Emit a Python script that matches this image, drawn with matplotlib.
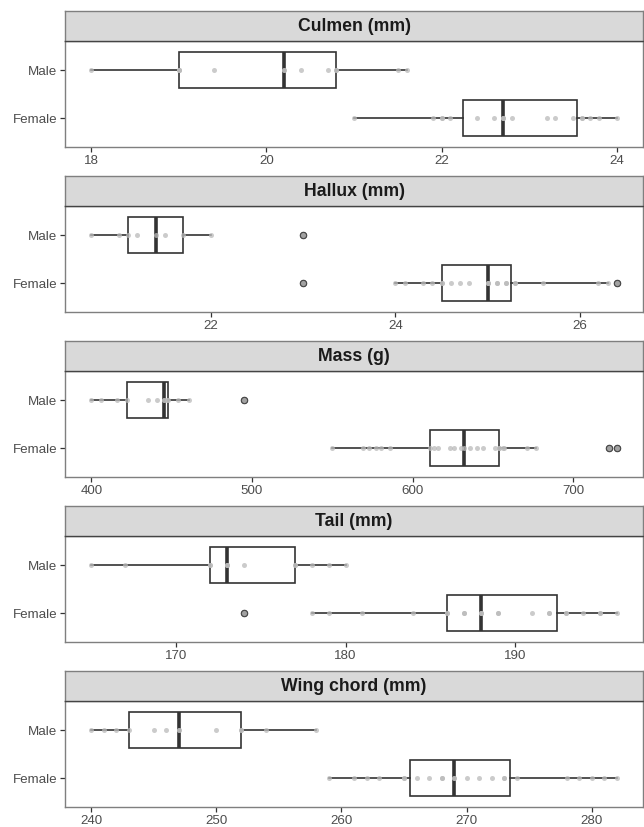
import matplotlib
matplotlib.use("Agg")
import matplotlib.pyplot as plt
import numpy as np
from matplotlib.ticker import MultipleLocator

plt.rcParams['font.family'] = ['Liberation Sans', 'DejaVu Sans']

titles = ["Culmen (mm)", "Hallux (mm)", "Mass (g)", "Tail (mm)", "Wing chord (mm)"]
sexes = ["Female", "Male"]

culmen_male = [18.0, 19.0, 19.0, 19.0, 19.4, 20.2, 20.2, 20.4, 20.7, 20.8, 20.8, 21.5, 21.6]
culmen_female = [21.0, 21.9, 22.0, 22.0, 22.1, 22.4, 22.6, 22.7, 22.7, 22.7, 22.8, 23.2, 23.3,
                 23.5, 23.6, 23.6, 23.7, 23.8, 24.0]

hallux_male = [20.7, 21.0, 21.1, 21.2, 21.4, 21.5, 21.7, 22.0, 23.0]
hallux_female = [23.0, 24.0, 24.1, 24.3, 24.4, 24.5, 24.5, 24.6, 24.7, 24.8, 25.0, 25.0, 25.0,
                 25.1, 25.1, 25.2, 25.2, 25.3, 25.3, 25.6, 26.2, 26.3, 26.4]

mass_male = [400, 406, 416, 422, 435, 441, 445, 445, 447, 448, 454, 461, 495]
mass_female = [550, 569, 573, 577, 580, 586, 611, 613, 616, 623, 626, 630, 632, 636, 640, 644,
               651, 654, 654, 656, 657, 671, 677, 722, 727]

tail_male = [165, 167, 172, 172, 173, 173, 173, 174, 177, 177, 178, 179, 180]
tail_female = [174, 178, 179, 181, 184, 186, 186, 187, 187, 188, 188, 188, 189, 189, 191, 192,
               192, 193, 193, 194, 195, 195, 196]

wing_male = [240, 241, 242, 243, 245, 246, 247, 247, 250, 252, 252, 254, 258]
wing_female = [259, 261, 262, 263, 265, 265, 266, 267, 268, 268, 269, 269, 270, 271, 272, 273,
               273, 274, 278, 279, 280, 281, 282]

tick_steps = [2, 2, 100, 10, 10]

data = [
    (culmen_female, culmen_male),
    (hallux_female, hallux_male),
    (mass_female, mass_male),
    (tail_female, tail_male),
    (wing_female, wing_male),
]

W, H = 644, 828
fig = plt.figure(figsize=(W / 100, H / 100), dpi=100)

left_px, right_px = 65, 643
strip_top0, panel_top0, panel_bot0 = 12, 41.7, 147.7
step = 165

border_col = '#7f7f7f'
line_col = '#333333'

for i, (title, (fem, mal)) in enumerate(zip(titles, data)):
    st = strip_top0 + i * step
    pt = panel_top0 + i * step
    pb = panel_bot0 + i * step
    ax = fig.add_axes([left_px / W, 1 - pb / H, (right_px - left_px) / W, (pb - pt) / H])
    sax = fig.add_axes([left_px / W, 1 - pt / H, (right_px - left_px) / W, (pt - st) / H])

    groups = [fem, mal]
    ax.boxplot(groups, positions=[1, 2], widths=0.75, orientation='horizontal', whis=1.5,
               patch_artist=True, showcaps=False,
               boxprops=dict(facecolor='white', edgecolor=line_col, linewidth=1.2),
               whiskerprops=dict(color=line_col, linewidth=1.2),
               medianprops=dict(color=line_col, linewidth=2.6),
               flierprops=dict(marker='o', markerfacecolor='#5e5e5e', markeredgecolor='#333333',
                               markersize=4.8, markeredgewidth=0.6))
    for pos, g in zip([1, 2], groups):
        ax.scatter(g, [pos] * len(g), s=13, color='#bababa', alpha=0.75, linewidths=0, zorder=4)

    allv = np.array(fem + mal, dtype=float)
    lo, hi = allv.min(), allv.max()
    pad = 0.05 * (hi - lo)
    ax.set_xlim(lo - pad, hi + pad)
    ax.set_ylim(0.4, 2.6)
    ax.set_yticks([1, 2])
    ax.set_yticklabels(sexes)
    ax.xaxis.set_major_locator(MultipleLocator(tick_steps[i]))
    ax.tick_params(axis='both', length=3.5, width=0.9, color='#333333', labelcolor='#4d4d4d',
                   labelsize=9.6, pad=2)
    for sp in ax.spines.values():
        sp.set_color(border_col)
        sp.set_linewidth(1.0)

    sax.set_xlim(0, 1)
    sax.set_ylim(0, 1)
    sax.set_facecolor('#d9d9d9')
    sax.set_xticks([])
    sax.set_yticks([])
    for sp in sax.spines.values():
        sp.set_color(border_col)
        sp.set_linewidth(1.0)
    sax.spines['bottom'].set_color('#444444')
    sax.text(0.5, 0.5, title, ha='center', va='center', fontsize=12.7, fontweight='bold',
             color='#1a1a1a')

fig.savefig('out.png', dpi=100)
